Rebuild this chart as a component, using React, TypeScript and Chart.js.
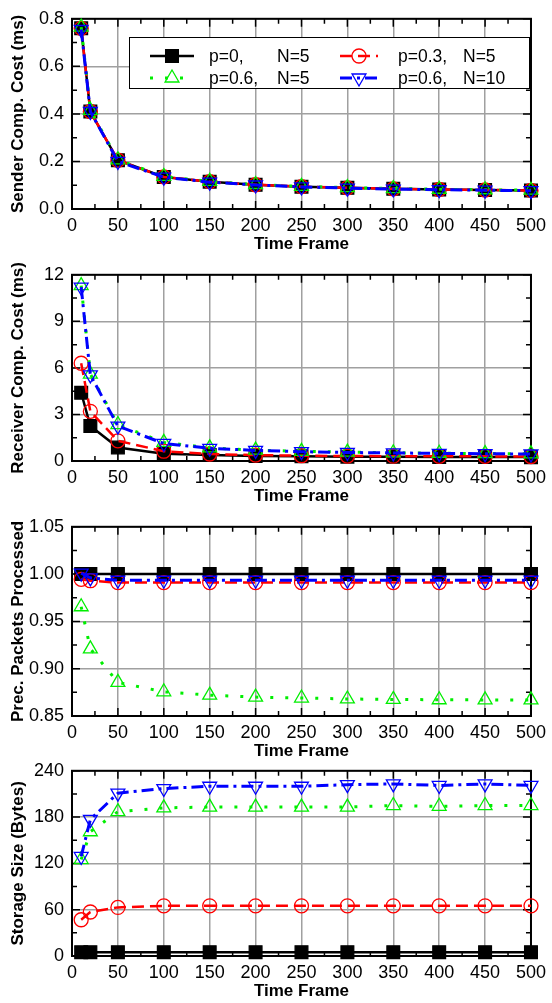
import React, { useEffect, useRef } from 'react';
import { Chart, registerables } from 'chart.js';

Chart.register(...registerables);

const FONT = '"Liberation Sans", Arial, Helvetica, sans-serif';

// ---------- data ----------
const timeFrames = [10, 20, 50, 100, 150, 200, 250, 300, 350, 400, 450, 500];

const seriesP = ['p=0,', 'p=0.3,', 'p=0.6,', 'p=0.6,'];
const seriesN = ['N=5', 'N=5', 'N=5', 'N=10'];

const senderP0N5 = [0.76, 0.41, 0.205, 0.135, 0.115, 0.102, 0.094, 0.089, 0.085, 0.082, 0.080, 0.078];
const senderP3N5 = [0.76, 0.41, 0.205, 0.135, 0.115, 0.102, 0.094, 0.089, 0.085, 0.082, 0.080, 0.078];
const senderP6N5 = [0.765, 0.415, 0.207, 0.137, 0.116, 0.103, 0.095, 0.090, 0.086, 0.083, 0.081, 0.079];
const senderP6N10 = [0.755, 0.41, 0.2, 0.134, 0.113, 0.101, 0.093, 0.088, 0.084, 0.081, 0.079, 0.077];

const receiverP0N5 = [4.4, 2.25, 0.87, 0.47, 0.38, 0.32, 0.3, 0.28, 0.27, 0.26, 0.26, 0.25];
const receiverP3N5 = [6.3, 3.2, 1.3, 0.63, 0.45, 0.38, 0.34, 0.32, 0.31, 0.3, 0.3, 0.29];
const receiverP6N5 = [11.3, 5.6, 2.35, 1.2, 0.85, 0.7, 0.62, 0.57, 0.53, 0.5, 0.48, 0.46];
const receiverP6N10 = [11.2, 5.55, 2.25, 1.13, 0.82, 0.68, 0.6, 0.55, 0.52, 0.49, 0.47, 0.45];

const processedP0N5 = [1.0, 1.0, 1.0, 1.0, 1.0, 1.0, 1.0, 1.0, 1.0, 1.0, 1.0, 1.0];
const processedP3N5 = [0.9945, 0.993, 0.991, 0.991, 0.991, 0.991, 0.991, 0.991, 0.991, 0.991, 0.991, 0.991];
const processedP6N5 = [0.9655, 0.921, 0.8855, 0.8756, 0.872, 0.870, 0.869, 0.868, 0.8675, 0.8672, 0.867, 0.867];
const processedP6N10 = [1.001, 0.996, 0.9935, 0.9935, 0.9935, 0.9935, 0.9935, 0.9935, 0.9935, 0.9935, 0.9935, 0.9935];

const storageP0N5 = [5, 5, 5, 5, 5, 5, 5, 5, 5, 5, 5, 5];
const storageP3N5 = [47, 57, 63, 65, 65, 65, 65, 65, 65, 65, 65, 65];
const storageP6N5 = [125, 161, 187, 192, 193, 193, 193, 193, 195, 194, 195, 195];
const storageP6N10 = [129, 177, 211, 217, 220, 220, 220, 222, 223, 221, 223, 221];

// ---------- styles ----------
type Style = {
  color: string; dash: number[]; width: number; shape: string;
  radius: number; fill: string; rotation: number; order: number;
};
const STYLES: Style[] = [
  { color: '#000000', dash: [], width: 2.5, shape: 'rect', radius: 9, fill: '#000000', rotation: 0, order: 3 },
  { color: '#ff0000', dash: [12, 6], width: 2.5, shape: 'circle', radius: 7, fill: 'rgba(255,255,255,0)', rotation: 0, order: 2 },
  { color: '#00ee00', dash: [3, 12], width: 3, shape: 'triangle', radius: 8, fill: 'rgba(255,255,255,0)', rotation: 0, order: 1 },
  { color: '#0000ff', dash: [12, 5, 3, 5], width: 3, shape: 'triangle', radius: 8, fill: 'rgba(255,255,255,0)', rotation: 180, order: 0 },
];

type Panel = {
  top: number; height: number; areaTop: number; areaBottom: number; titleCenter: number;
  yMin: number; yMax: number; yStep: number; decimals: number; title: string;
  series: number[][]; legend: boolean;
};

const PANELS: Panel[] = [
  { top: 0, height: 256, areaTop: 14, areaBottom: 209, titleCenter: 244, yMin: 0, yMax: 0.8, yStep: 0.2, decimals: 1,
    title: 'Sender Comp. Cost (ms)', series: [senderP0N5, senderP3N5, senderP6N5, senderP6N10], legend: true },
  { top: 256, height: 252, areaTop: 269, areaBottom: 461, titleCenter: 496, yMin: 0, yMax: 12, yStep: 3, decimals: 0,
    title: 'Receiver Comp. Cost (ms)', series: [receiverP0N5, receiverP3N5, receiverP6N5, receiverP6N10], legend: false },
  { top: 508, height: 254, areaTop: 523, areaBottom: 716, titleCenter: 751, yMin: 0.85, yMax: 1.05, yStep: 0.05, decimals: 2,
    title: 'Prec. Packets Processed', series: [processedP0N5, processedP3N5, processedP6N5, processedP6N10], legend: false },
  { top: 752, height: 251, areaTop: 764, areaBottom: 956, titleCenter: 991, yMin: 0, yMax: 240, yStep: 60, decimals: 0,
    title: 'Storage Size (Bytes)', series: [storageP0N5, storageP3N5, storageP6N5, storageP6N10], legend: false },
];

function drawMarker(ctx: CanvasRenderingContext2D, s: Style, x: number, y: number) {
  ctx.save();
  ctx.setLineDash([]);
  ctx.lineWidth = 1.3;
  ctx.strokeStyle = s.color;
  ctx.fillStyle = s.fill;
  ctx.beginPath();
  if (s.shape === 'rect') {
    const h = s.radius * Math.SQRT1_2;
    ctx.rect(x - h, y - h, 2 * h, 2 * h);
  } else if (s.shape === 'circle') {
    ctx.arc(x, y, s.radius, 0, Math.PI * 2);
  } else {
    const rad = (s.rotation * Math.PI) / 180;
    for (let k = 0; k < 3; k++) {
      const a = rad + (k * 2 * Math.PI) / 3;
      const px = x + Math.sin(a) * s.radius;
      const py = y - Math.cos(a) * s.radius;
      if (k === 0) ctx.moveTo(px, py); else ctx.lineTo(px, py);
    }
  }
  ctx.closePath();
  ctx.fill();
  ctx.stroke();
  ctx.restore();
}

function framePlugin(panel: Panel) {
  return {
    id: 'frame',
    beforeDatasetsDraw(chart: any) {
      const { ctx, chartArea } = chart;
      const { left, right, top, bottom } = chartArea;
      const xs = chart.scales.x;
      const ys = chart.scales.y;
      ctx.save();
      ctx.strokeStyle = '#000';
      ctx.lineWidth = 1.5;
      ctx.beginPath();
      for (let v = 0; v <= 500; v += 25) {
        const px = xs.getPixelForValue(v);
        const len = v % 50 === 0 ? 8 : 5;
        ctx.moveTo(px, bottom); ctx.lineTo(px, bottom - len);
        ctx.moveTo(px, top); ctx.lineTo(px, top + len);
      }
      const n = Math.round((panel.yMax - panel.yMin) / (panel.yStep / 2));
      for (let i = 0; i <= n; i++) {
        const v = panel.yMin + (i * panel.yStep) / 2;
        const py = ys.getPixelForValue(v);
        const len = i % 2 === 0 ? 8 : 5;
        ctx.moveTo(left, py); ctx.lineTo(left + len, py);
        ctx.moveTo(right, py); ctx.lineTo(right - len, py);
      }
      ctx.stroke();
      ctx.lineWidth = 2;
      ctx.strokeRect(left, top, right - left, bottom - top);
      ctx.restore();
    },
  };
}

const legendPlugin = {
  id: 'customLegend',
  afterDraw(chart: any) {
    const ctx: CanvasRenderingContext2D = chart.ctx;
    ctx.save();
    ctx.fillStyle = '#ffffff';
    ctx.fillRect(129, 37, 400, 51);
    ctx.strokeStyle = '#000';
    ctx.lineWidth = 1;
    ctx.strokeRect(129.5, 37.5, 400, 51);
    const cols = [
      { x0: 150, x1: 194, mx: 172, tx: 209, nx: 277 },
      { x0: 340, x1: 378, mx: 359, tx: 398, nx: 463 },
    ];
    const rows = [56, 78];
    ctx.font = `17.5px ${FONT}`;
    ctx.textBaseline = 'middle';
    for (let i = 0; i < 4; i++) {
      const c = cols[i % 2];
      const y = rows[Math.floor(i / 2)];
      const s = STYLES[i];
      ctx.save();
      ctx.strokeStyle = s.color;
      ctx.lineWidth = s.width;
      ctx.setLineDash(s.dash);
      ctx.beginPath();
      ctx.moveTo(c.x0, y);
      ctx.lineTo(c.x1, y);
      ctx.stroke();
      ctx.restore();
      drawMarker(ctx, s, c.mx, y);
      ctx.fillStyle = '#000';
      ctx.fillText(seriesP[i], c.tx, y + 1);
      ctx.fillText(seriesN[i], c.nx, y + 1);
    }
    ctx.restore();
  },
};

function PanelChart({ panel }: { panel: Panel }) {
  const ref = useRef<HTMLCanvasElement>(null);
  useEffect(() => {
    if (!ref.current) return;
    const tickFont = { family: FONT, size: 18 };
    const titleFont = { family: FONT, size: 17, weight: 'bold' as const };
    const titleLH = 17 * 1.2;
    const pb = Math.max(0, panel.top + panel.height - titleLH / 2 - panel.titleCenter);
    const chart = new Chart(ref.current, {
      type: 'line',
      data: {
        datasets: STYLES.map((s, i) => ({
          label: `${seriesP[i]} ${seriesN[i]}`,
          data: timeFrames.map((x, j) => ({ x, y: panel.series[i][j] })),
          borderColor: s.color,
          borderWidth: s.width,
          borderDash: s.dash,
          pointStyle: s.shape as any,
          pointRadius: s.radius,
          pointBackgroundColor: s.fill,
          pointBorderColor: s.color,
          pointBorderWidth: 1.3,
          pointRotation: s.rotation,
          fill: false,
          tension: 0,
          order: s.order,
          clip: false as any,
        })),
      },
      options: {
        responsive: false,
        animation: false,
        devicePixelRatio: 1,
        events: [],
        layout: { padding: { top: panel.areaTop - panel.top, right: 20, left: 0, bottom: 0 } },
        plugins: { legend: { display: false }, tooltip: { enabled: false } },
        scales: {
          x: {
            type: 'linear',
            min: 0,
            max: 500,
            ticks: { stepSize: 50, font: tickFont, color: '#000', padding: 6, maxRotation: 0, autoSkip: false },
            grid: { color: '#a0a0a0', lineWidth: 1.5, drawTicks: false },
            border: { display: false },
            title: { display: true, text: 'Time Frame', font: titleFont, color: '#000', padding: { top: 0, bottom: pb } },
            afterFit: (s: any) => { s.height = panel.top + panel.height - panel.areaBottom; },
          },
          y: {
            type: 'linear',
            min: panel.yMin,
            max: panel.yMax,
            ticks: {
              stepSize: panel.yStep,
              font: tickFont,
              color: '#000',
              padding: 8,
              callback: (v: any) => Number(v).toFixed(panel.decimals),
            },
            grid: { color: '#a0a0a0', lineWidth: 1.5, drawTicks: false },
            border: { display: false },
            title: { display: true, text: panel.title, font: titleFont, color: '#000', padding: { top: 8, bottom: 0 } },
            afterFit: (s: any) => { s.width = 72; },
          },
        },
      } as any,
      plugins: panel.legend ? [framePlugin(panel), legendPlugin] : [framePlugin(panel)],
    });
    return () => chart.destroy();
  }, [panel]);
  return (
    <canvas
      ref={ref}
      width={552}
      height={panel.height}
      style={{ position: 'absolute', left: 0, top: panel.top, width: 552, height: panel.height }}
    />
  );
}

export default function App() {
  return (
    <div style={{ position: 'absolute', left: 0, top: 0, width: 552, height: 1003, background: '#fff' }}>
      {PANELS.map((p, i) => (
        <PanelChart key={i} panel={p} />
      ))}
    </div>
  );
}
